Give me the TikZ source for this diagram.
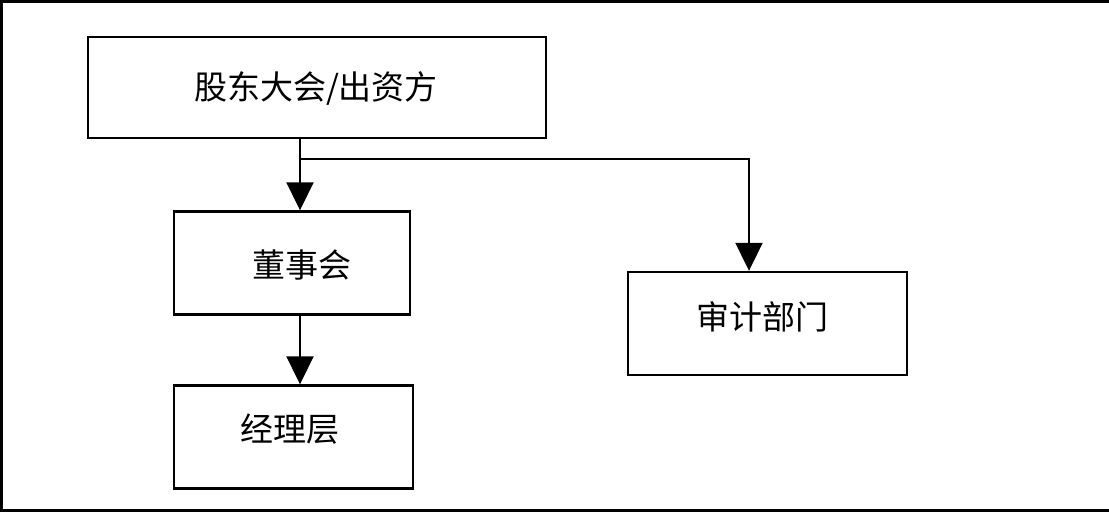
\documentclass[tikz,border=0pt]{standalone}
\usepackage{fontspec}
\newfontfamily\cjk{Noto Sans CJK SC}
\usetikzlibrary{arrows.meta}
\begin{document}
\begin{tikzpicture}[x=1pt,y=-1pt,
  box/.style={draw=black,line width=2.4pt,rectangle,inner sep=0pt},
  lbl/.style={font=\cjk\fontsize{33}{38}\selectfont,inner sep=0pt},
  conn/.style={draw=black,line width=2pt,-{Triangle[width=27pt,length=28pt]}}]
\useasboundingbox (0,0) rectangle (1109,512);
% outer frame (left, top, bottom)
\draw[line width=3pt] (1.5,512) -- (1.5,1.5) -- (1109,1.5);
\draw[line width=2.5pt] (0,510.5) -- (1109,510.5);
% boxes
\node[box,minimum width=458pt,minimum height=101pt] (b1) at (317,87.5) {};
\node[box,minimum width=236pt,minimum height=103pt] (b2) at (292,263) {};
\node[box,minimum width=239pt,minimum height=103pt] (b3) at (293.5,437) {};
\node[box,minimum width=279pt,minimum height=103pt] (b4) at (767.5,323.5) {};
% labels
\node[lbl] (t1) at (316,88) {股东大会/出资方};
\node[lbl] (t2) at (302,265) {董事会};
\node[lbl] (t3) at (290,429) {经理层};
\node[lbl] (t4) at (762,317) {审计部门};
% connectors
\coordinate (j) at (300,159);
\coordinate (k) at (749,159);
\draw[conn] (b1.south -| j) -- (b2.north -| j);
\draw[conn] (j) -- (k) -- (b4.north -| k);
\draw[conn] (b2.south -| j) -- (b3.north -| j);
\end{tikzpicture}
\end{document}
